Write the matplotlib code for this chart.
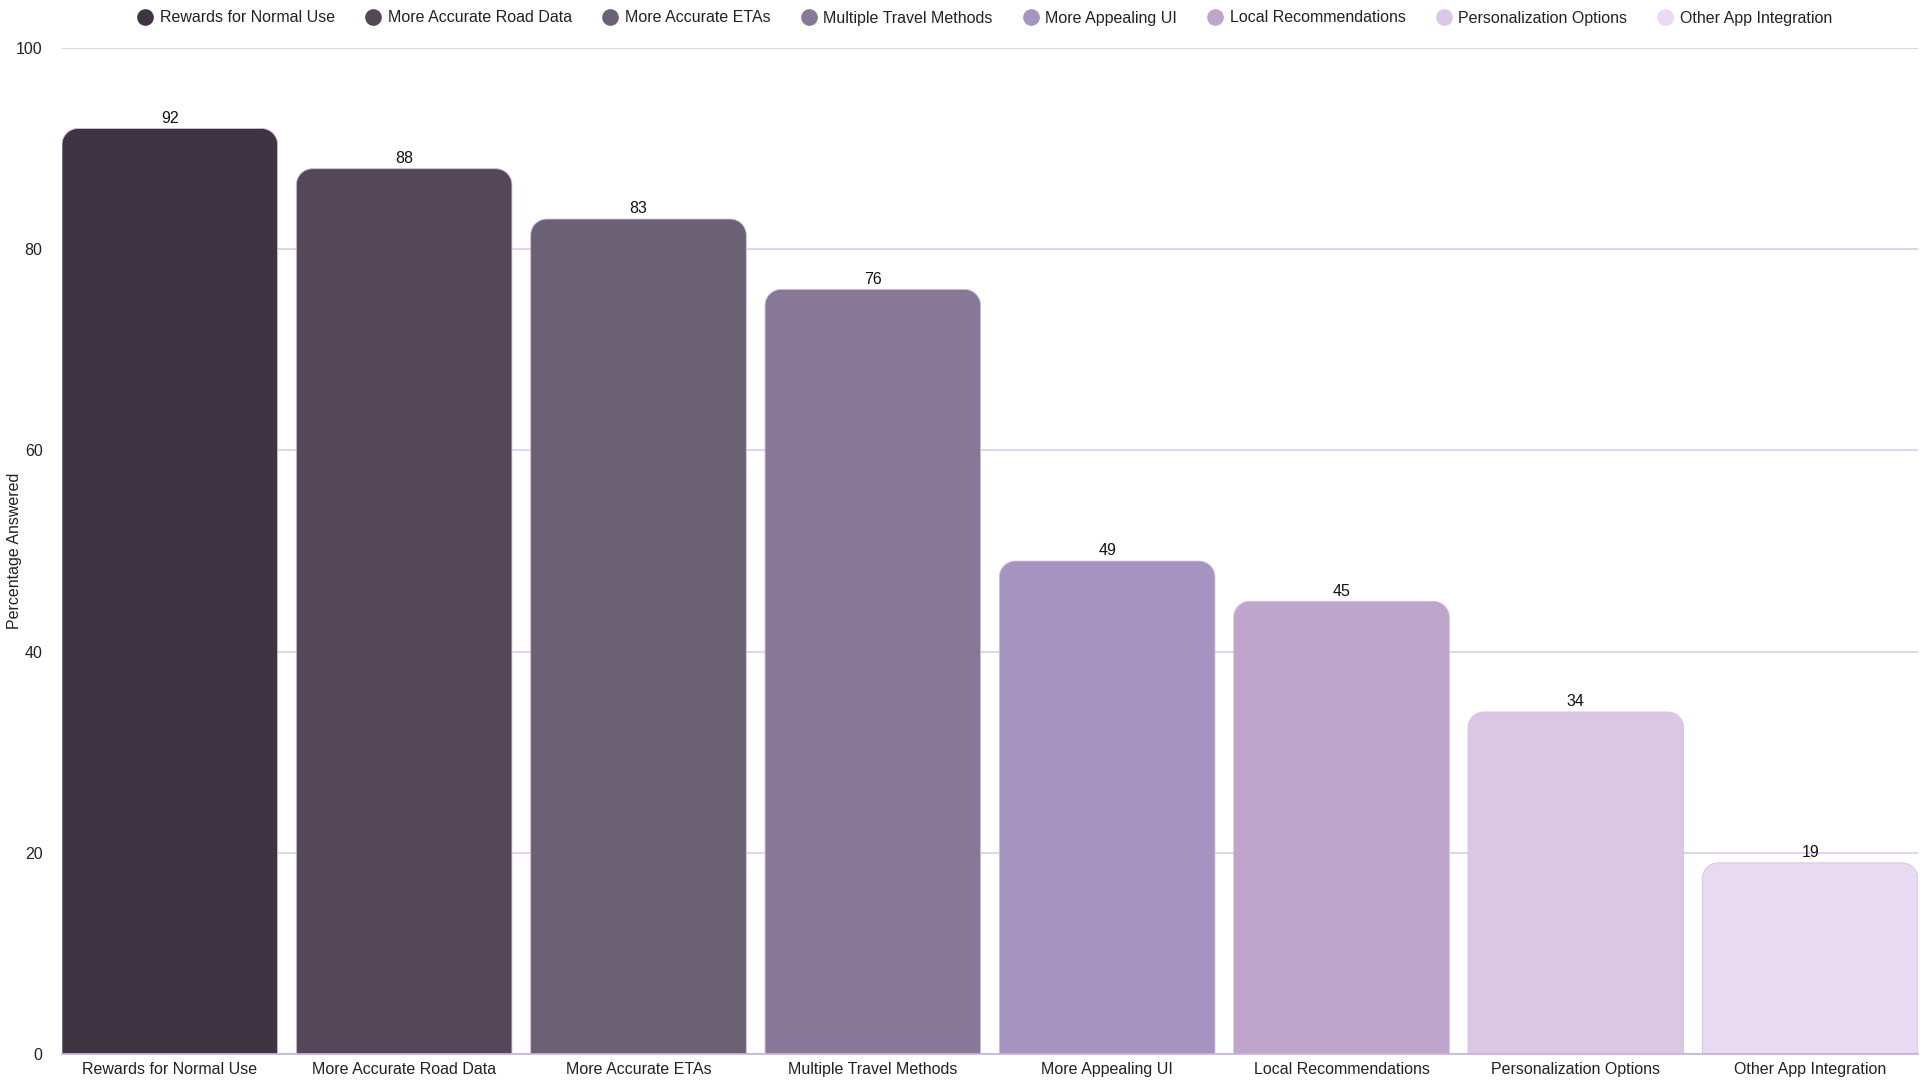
import matplotlib
matplotlib.use("Agg")
import matplotlib.pyplot as plt
from matplotlib.path import Path
from matplotlib.patches import PathPatch
from matplotlib.lines import Line2D

plt.rcParams['font.family'] = ['Liberation Sans', 'DejaVu Sans']

categories = ["Rewards for Normal Use", "More Accurate Road Data", "More Accurate ETAs",
              "Multiple Travel Methods", "More Appealing UI", "Local Recommendations",
              "Personalization Options", "Other App Integration"]
values = [92, 88, 83, 76, 49, 45, 34, 19]
colors = ["#3f3441", "#544757", "#6a6174", "#877898", "#a593c0", "#bfa5cb", "#dcc6e5", "#ead9f2"]
yticks = [0, 20, 40, 60, 80, 100]

W, H, DPI = 19.2, 10.8, 100
fig = plt.figure(figsize=(W, H), dpi=DPI)
ax = fig.add_axes([62/1920, 26/1080, 1856/1920, 1006/1080])

bw = 0.92
x = list(range(len(categories)))
bars = ax.bar(x, values, width=bw, color=colors)
ax.set_xlim(-bw/2, len(categories) - 1 + bw/2)
ax.set_ylim(0, 100)

# replace with top-rounded bars
ax_w_px = 1856
ax_h_px = 1006
r_px = 16
xr = r_px * (ax.get_xlim()[1] - ax.get_xlim()[0]) / ax_w_px
yr = r_px * 100 / ax_h_px
k = 0.5523
for b, c in zip(bars, colors):
    x0 = b.get_x(); x1 = x0 + b.get_width(); h = b.get_height()
    b.set_visible(False)
    verts = [(x0, 0), (x0, h - yr),
             (x0, h - yr + k*yr), (x0 + xr - k*xr, h), (x0 + xr, h),
             (x1 - xr, h),
             (x1 - xr + k*xr, h), (x1, h - yr + k*yr), (x1, h - yr),
             (x1, 0), (x0, 0)]
    codes = [Path.MOVETO, Path.LINETO,
             Path.CURVE4, Path.CURVE4, Path.CURVE4,
             Path.LINETO,
             Path.CURVE4, Path.CURVE4, Path.CURVE4,
             Path.LINETO, Path.CLOSEPOLY]
    ax.add_patch(PathPatch(Path(verts, codes), facecolor=c, edgecolor="#d2bee0",
                           linewidth=0.6, zorder=3))

for xi, v in zip(x, values):
    ax.annotate(str(v), (xi, v), xytext=(0, 2), textcoords="offset points",
                ha="center", va="bottom", fontsize=11.5, color="#111111", zorder=4)

ax.set_yticks(yticks)
ax.set_xticks(x)
ax.set_xticklabels(categories, fontsize=11.5, color="#222222")
ax.tick_params(axis='y', length=0, pad=14, labelsize=11.5, labelcolor="#222222")
ax.tick_params(axis='x', length=0, pad=6)
ax.yaxis.grid(True, color="#dccbe8", linewidth=1.2, zorder=0)
ax.set_axisbelow(True)
for s in ["top", "right", "left"]:
    ax.spines[s].set_visible(False)
ax.spines["bottom"].set_color("#c8b0d8")
ax.spines["bottom"].set_linewidth(1.2)
ax.spines["bottom"].set_zorder(5)

fig.text(7/1920, 0.49, "Percentage Answered", rotation=90, ha="left", va="center",
         fontsize=11.5, color="#222222")

handles = [Line2D([0], [0], marker='o', linestyle='none', markersize=11,
                  markerfacecolor=c, markeredgecolor=c) for c in colors]
fig.legend(handles, categories, loc="center", bbox_to_anchor=(984/1920, 1 - 18/1080),
           ncol=8, frameon=False, fontsize=11.5, handletextpad=0.3, columnspacing=1.8,
           handlelength=1.2, labelcolor="#222222")

fig.savefig("out.png", dpi=DPI)
